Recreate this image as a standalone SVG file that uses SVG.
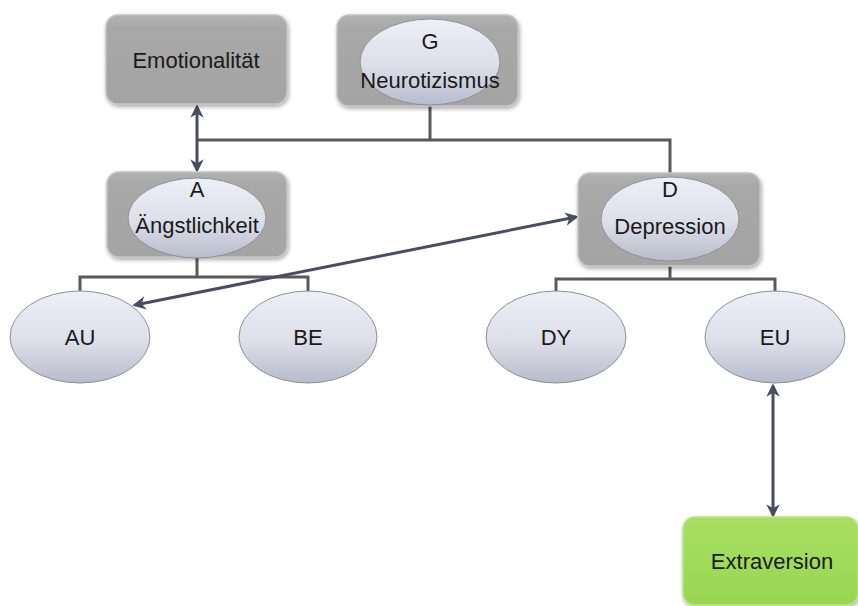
<svg xmlns="http://www.w3.org/2000/svg" width="858" height="606" viewBox="0 0 858 606">
  <defs>
    <linearGradient id="boxFill" x1="0" y1="0" x2="0" y2="1">
      <stop offset="0" stop-color="#b2b2b2"/>
      <stop offset="0.15" stop-color="#a8a8a8"/>
      <stop offset="1" stop-color="#a4a4a4"/>
    </linearGradient>
    <linearGradient id="ellFill" x1="0" y1="0" x2="0" y2="1">
      <stop offset="0" stop-color="#eef0f7"/>
      <stop offset="0.55" stop-color="#dcdee9"/>
      <stop offset="1" stop-color="#b8bbca"/>
    </linearGradient>
    <linearGradient id="greenFill" x1="0" y1="0" x2="0" y2="1">
      <stop offset="0" stop-color="#a8df62"/>
      <stop offset="1" stop-color="#98d652"/>
    </linearGradient>
    <filter id="shadow" x="-10%" y="-10%" width="125%" height="130%">
      <feGaussianBlur in="SourceAlpha" stdDeviation="2"/>
      <feOffset dx="1" dy="2" result="b"/>
      <feComponentTransfer><feFuncA type="linear" slope="0.35"/></feComponentTransfer>
      <feMerge><feMergeNode/><feMergeNode in="SourceGraphic"/></feMerge>
    </filter>
    <marker id="arrow" viewBox="0 0 10 10" refX="8" refY="5" markerWidth="4.5" markerHeight="4.5" orient="auto-start-reverse">
      <path d="M0,0 L10,5 L0,10 L3,5 Z" fill="#474d66"/>
    </marker>
    <style>
      .box { fill: url(#boxFill); stroke: #c4c4c4; stroke-width: 1.5; filter: url(#shadow); }
      .green { fill: url(#greenFill); stroke: #b8e680; stroke-width: 1.5; filter: url(#shadow); }
      .ell { fill: url(#ellFill); stroke: #8f8f96; stroke-width: 1; }
      .tree { fill: none; stroke: #595959; stroke-width: 3; }
      .link { fill: none; stroke: #474d66; stroke-width: 3; marker-start: url(#arrow); marker-end: url(#arrow); }
      text { font-family: "Liberation Sans", Arial, sans-serif; font-size: 22px; fill: #1a1a1a; text-anchor: middle; }
    </style>
  </defs>

  <g id="connectors">
    <!-- hierarchy lines -->
    <path class="tree" d="M430,106 V140 M197,140 H670 V173"/>
    <path class="tree" d="M197,257 V277 M80,292 V277 H308 V292"/>
    <path class="tree" d="M670,266 V279 M556,292 V279 H775 V292"/>
    <!-- correlations -->
    <line class="link" x1="197" y1="107" x2="197" y2="170"/>
    <line class="link" x1="135" y1="305" x2="576" y2="217"/>
    <line class="link" x1="773" y1="386" x2="773" y2="515"/>
  </g>

  <g id="emotionalitaet">
    <rect class="box" x="106" y="15" width="181" height="89" rx="12"/>
    <text x="196" y="68">Emotionalität</text>
  </g>

  <g id="neurotizismus">
    <rect class="box" x="337" y="15" width="181" height="91" rx="12"/>
    <ellipse class="ell" cx="430" cy="62" rx="70" ry="43"/>
    <text x="430" y="49">G</text>
    <text x="430" y="88">Neurotizismus</text>
  </g>

  <g id="aengstlichkeit">
    <rect class="box" x="107" y="172" width="180" height="85" rx="12"/>
    <ellipse class="ell" cx="197" cy="218" rx="69" ry="40"/>
    <text x="197" y="197">A</text>
    <text x="197" y="233">Ängstlichkeit</text>
  </g>

  <g id="depression">
    <rect class="box" x="578" y="173" width="182" height="93" rx="12"/>
    <ellipse class="ell" cx="670" cy="219" rx="69" ry="42"/>
    <text x="670" y="197">D</text>
    <text x="670" y="234">Depression</text>
  </g>

  <g id="au">
    <ellipse class="ell" cx="80" cy="337" rx="70" ry="46"/>
    <text x="80" y="345">AU</text>
  </g>

  <g id="be">
    <ellipse class="ell" cx="308" cy="337" rx="69" ry="46"/>
    <text x="308" y="345">BE</text>
  </g>

  <g id="dy">
    <ellipse class="ell" cx="556" cy="337" rx="70" ry="46"/>
    <text x="556" y="345">DY</text>
  </g>

  <g id="eu">
    <ellipse class="ell" cx="775" cy="337" rx="70" ry="46"/>
    <text x="775" y="345">EU</text>
  </g>

  <g id="extraversion">
    <rect class="green" x="683" y="517" width="175" height="88" rx="12"/>
    <text x="772" y="569">Extraversion</text>
  </g>
</svg>
